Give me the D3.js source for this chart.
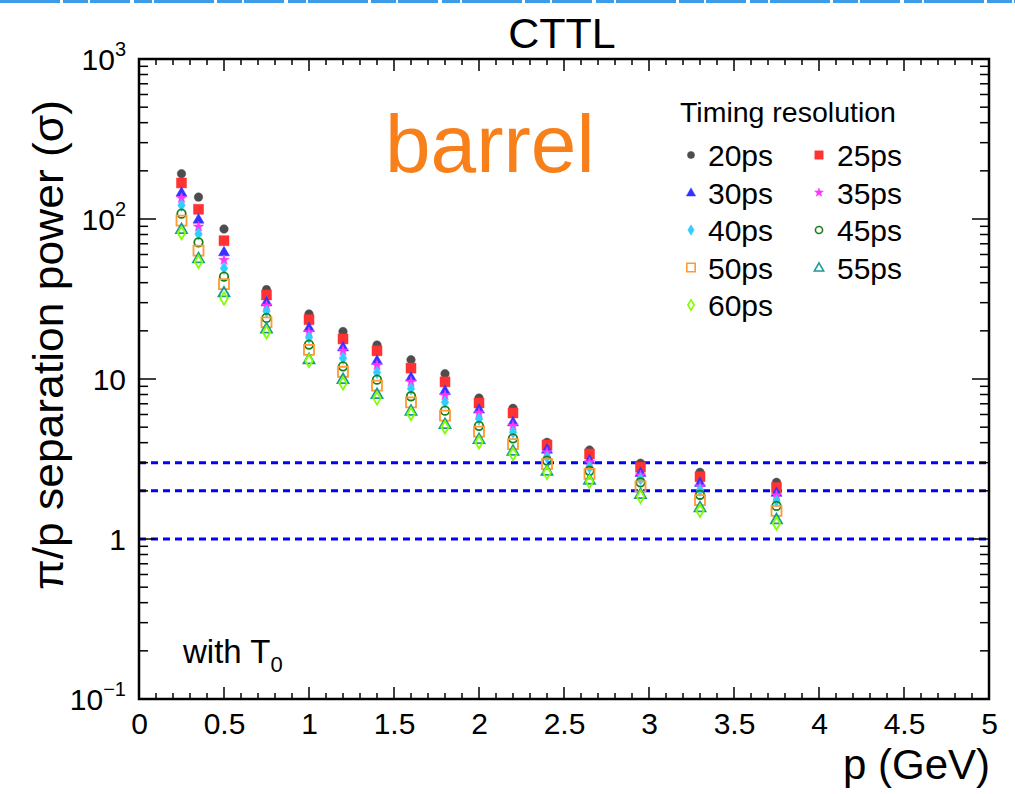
<!DOCTYPE html>
<html><head><meta charset="utf-8">
<script src="https://cdn.jsdelivr.net/npm/d3@7"></script>
<style>body{margin:0;background:#fff}svg{display:block}text{font-family:"Liberation Sans",Arial,sans-serif}</style>
</head><body><svg id="c" width="1015" height="794"></svg>
<script>
// ---- data ----
const momenta = [0.25,0.35,0.5,0.75,1.0,1.2,1.4,1.6,1.8,2.0,2.2,2.4,2.65,2.95,3.3,3.75];
const seriesNames = ["20ps","25ps","30ps","35ps","40ps","45ps","50ps","55ps","60ps"];
const sep20 = [192,137,86.6,36.2,25.5,19.8,16.3,13.2,10.8,7.6,6.56,4.02,3.6,2.98,2.61,2.26];
const sep25 = [168,115,73.2,33.5,23.5,17.8,15.0,11.7,9.6,7.08,6.13,3.87,3.4,2.81,2.45,2.1];
const sep30 = [147,100,62.5,30.4,21.0,15.9,13.1,10.3,8.5,6.5,5.41,3.65,3.13,2.61,2.26,1.96];
const sep35 = [135,89.5,55.4,28.7,19.6,15.0,12.2,9.6,7.9,6.13,5.1,3.48,3.01,2.49,2.13,1.87];
const sep40 = [122,80.6,49.2,26.5,18.2,13.5,11.0,8.7,7.15,5.62,4.64,3.24,2.81,2.37,2.02,1.73];
const sep45 = [108,71.5,43.6,24.1,16.4,12.0,9.9,7.8,6.34,5.1,4.26,3.09,2.67,2.26,1.89,1.61];
const sep50 = [97.6,63.4,39.2,22.6,15.2,11.1,9.1,7.15,5.9,4.69,3.92,2.94,2.55,2.13,1.75,1.5];
const sep55 = [86.6,56.8,34.8,20.7,13.3,10.0,8.06,6.34,5.23,4.22,3.56,2.67,2.35,1.91,1.58,1.33];
const sep60 = [81.7,54.1,31.9,19.6,13.0,9.4,7.57,6.04,4.99,4.02,3.4,2.59,2.28,1.84,1.5,1.25];
const seriesValues = [sep20,sep25,sep30,sep35,sep40,sep45,sep50,sep55,sep60];
const thresholds = [3,2,1];
const xTicks = [0,0.5,1,1.5,2,2.5,3,3.5,4,4.5,5];
const yDecades = [0.1,1,10,100,1000];
const yDecadeLabels = [["10","−1"],["1",""],["10",""],["10","2"],["10","3"]];

// ---- styles ----
const styles = [
  {shape:"circle",  fill:true,  color:"#4d4d4d"},
  {shape:"square",  fill:true,  color:"#ff3333"},
  {shape:"triangle",fill:true,  color:"#3333ff"},
  {shape:"star",    fill:true,  color:"#ff33ff"},
  {shape:"diamond", fill:true,  color:"#33ccff"},
  {shape:"circle",  fill:false, color:"#1a801a"},
  {shape:"square",  fill:false, color:"#ff9933"},
  {shape:"triangle",fill:false, color:"#1a9999"},
  {shape:"diamond", fill:false, color:"#80ff00"}
];

function markerPath(shape, s){
  switch(shape){
    case "circle": {const r=s*0.85; return `M${-r},0A${r},${r} 0 1,0 ${r},0A${r},${r} 0 1,0 ${-r},0Z`;}
    case "square": {const h=s; return `M${-h},${-h}H${h}V${h}H${-h}Z`;}
    case "triangle": {const h=s*1.1; return `M0,${-h}L${h},${h*0.75}L${-h},${h*0.75}Z`;}
    case "diamond": {return `M0,${-s*1.25}L${s*0.75},0L0,${s*1.25}L${-s*0.75},0Z`;}
    case "star": {
      let p=[]; for(let i=0;i<10;i++){const a=-Math.PI/2+i*Math.PI/5; const r=i%2?s*0.45:s*1.1; p.push([r*Math.cos(a),r*Math.sin(a)]);}
      return "M"+p.map(d=>d[0].toFixed(2)+","+d[1].toFixed(2)).join("L")+"Z";
    }
  }
}

const svg = d3.select("#c");
const x = d3.scaleLinear().domain([0,5]).range([139,989]);
const y = d3.scaleLog().domain([0.1,1000]).range([699,59]);

// top artifact line
svg.append("line").attr("x1",0).attr("x2",1015).attr("y1",1.5).attr("y2",1.5)
  .attr("stroke","#3d9be9").attr("stroke-width",3).attr("stroke-dasharray","60 3 25 2 40 4 18 2");

// threshold dashed lines
svg.append("g").selectAll("line").data(thresholds).join("line")
  .attr("x1",x(0)).attr("x2",x(5)).attr("y1",d=>y(d)).attr("y2",d=>y(d))
  .attr("stroke","#0000ff").attr("stroke-width",3).attr("stroke-dasharray","7 5");

// data markers
seriesValues.forEach((vals,si)=>{
  const st = styles[si];
  svg.append("g").selectAll("path").data(vals).join("path")
    .attr("transform",(d,i)=>`translate(${x(momenta[i])},${y(d)})`)
    .attr("d",markerPath(st.shape,5))
    .attr("fill",st.fill?st.color:"none")
    .attr("stroke",st.color).attr("stroke-width",st.fill?0.5:1.8);
});

// axes frame
const fr = svg.append("g");
fr.append("rect").attr("x",139).attr("y",59).attr("width",850).attr("height",640)
  .attr("fill","none").attr("stroke","#000").attr("stroke-width",2.5);

const xMinor = d3.range(0,5.0001,0.1);
xMinor.forEach(v=>{
  const major = Math.abs(v*2-Math.round(v*2))<1e-6;
  const len = major?12:6;
  fr.append("line").attr("x1",x(v)).attr("x2",x(v)).attr("y1",699).attr("y2",699-len).attr("stroke","#000").attr("stroke-width",1.5);
  fr.append("line").attr("x1",x(v)).attr("x2",x(v)).attr("y1",59).attr("y2",59+len).attr("stroke","#000").attr("stroke-width",1.5);
});
const gx = svg.append("g").attr("transform","translate(0,699)")
  .call(d3.axisBottom(x).tickValues(xTicks).tickSize(0).tickPadding(14).tickFormat(d3.format("")));
gx.select(".domain").remove();
gx.selectAll("text").attr("font-size",30).attr("fill","#000").attr("font-family","Liberation Sans, Arial, sans-serif");

const yMinor = [];
for(let e=-1;e<3;e++){for(let m=1;m<10;m++){yMinor.push(m*Math.pow(10,e));}}
yMinor.push(1000);
yMinor.forEach(v=>{
  const major = Math.abs(Math.log10(v)-Math.round(Math.log10(v)))<1e-6;
  const len = major?17:9;
  fr.append("line").attr("x1",139).attr("x2",139+len).attr("y1",y(v)).attr("y2",y(v)).attr("stroke","#000").attr("stroke-width",1.5);
  fr.append("line").attr("x1",989).attr("x2",989-len).attr("y1",y(v)).attr("y2",y(v)).attr("stroke","#000").attr("stroke-width",1.5);
});
yDecades.forEach((v,i)=>{
  const lab = yDecadeLabels[i];
  const t = svg.append("text").attr("x",126).attr("y",y(v)+11).attr("text-anchor","end")
    .attr("font-size",30).attr("fill","#000");
  if(lab[1]){
    t.append("tspan").text(lab[0]);
    t.append("tspan").text(lab[1]).attr("font-size",20).attr("dy",-14);
  } else t.text(lab[0]);
});

// titles
svg.append("text").attr("x",562).attr("y",48).attr("text-anchor","middle").attr("font-size",43).text("CTTL");
svg.append("text").attr("x",990).attr("y",779).attr("text-anchor","end").attr("font-size",42).text("p (GeV)");
svg.append("text").attr("transform","translate(63,100) rotate(-90)").attr("text-anchor","end")
  .attr("font-size",42).attr("textLength",490).attr("lengthAdjust","spacingAndGlyphs").text("π/p separation power (σ)");
svg.append("text").attr("x",385).attr("y",172).attr("font-size",82).attr("fill","#f7801a").text("barrel");
const wt = svg.append("text").attr("x",183).attr("y",663).attr("font-size",33);
wt.append("tspan").text("with T");
wt.append("tspan").text("0").attr("font-size",22).attr("dy",9);

// legend
const lg = svg.append("g");
lg.append("text").attr("x",680).attr("y",122).attr("font-size",28.5).text("Timing resolution");
seriesNames.forEach((nm,i)=>{
  const col = i%2, row = Math.floor(i/2);
  const mx = col? 819:691, tx = col? 837:708, cy = 155+row*37.5;
  const st = styles[i];
  lg.append("path").attr("transform",`translate(${mx},${cy})`).attr("d",markerPath(st.shape,4.2))
    .attr("fill",st.fill?st.color:"none").attr("stroke",st.color).attr("stroke-width",st.fill?0.5:1.6);
  lg.append("text").attr("x",tx).attr("y",cy+11).attr("font-size",30).text(nm);
});
</script></body></html>
